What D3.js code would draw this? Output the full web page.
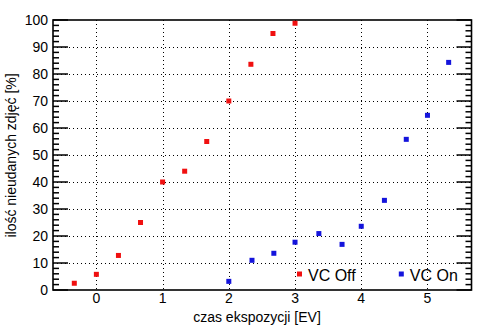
<!DOCTYPE html>
<html><head><meta charset="utf-8">
<script src="https://cdn.jsdelivr.net/npm/d3@7"></script>
<style>body{margin:0;background:#fff}svg{display:block}</style>
</head><body>
<svg id="c" width="494" height="331"></svg>
<script>
const offX = [-1/3, 0, 1/3, 2/3, 1, 4/3, 5/3, 2, 7/3, 8/3, 3];
const offY = [2.5, 5.8, 12.8, 25, 40, 44, 55, 70, 83.6, 95, 98.8];
const onX = [2, 2.35, 2.68, 3, 3.36, 3.71, 4, 4.35, 4.68, 5, 5.32];
const onY = [3.2, 11, 13.6, 17.7, 20.9, 16.9, 23.6, 33.2, 55.8, 64.7, 84.3];
const xTicks = [0, 1, 2, 3, 4, 5];
const yTicks = [0, 10, 20, 30, 40, 50, 60, 70, 80, 90, 100];
const seriesNames = ["VC Off", "VC On"];
const colors = ["#f01010", "#1414dc"];

const svg = d3.select("#c");
const L = 53, R = 471.5, T = 20, B = 290;
const x = d3.scaleLinear().domain([-0.655, 5.665]).range([L, R]);
const y = d3.scaleLinear().domain([0, 100]).range([B, T]);
const font = "Liberation Sans, Arial, sans-serif";

// grid
const g = svg.append("g");
g.selectAll("line.gx").data(xTicks).enter().append("line")
  .attr("x1", d => Math.round(x(d)) + 0.5).attr("x2", d => Math.round(x(d)) + 0.5)
  .attr("y1", T).attr("y2", B)
  .attr("stroke", "#000").attr("stroke-width", 1).attr("stroke-dasharray", "1,3");
g.selectAll("line.gy").data(yTicks.slice(1, -1)).enter().append("line")
  .attr("y1", d => Math.round(y(d)) + 0.5).attr("y2", d => Math.round(y(d)) + 0.5)
  .attr("x1", L).attr("x2", R)
  .attr("stroke", "#000").attr("stroke-width", 1).attr("stroke-dasharray", "1,3");

// left and right axis ticks
const minor = d3.range(0, 101, 2);
const ax = svg.append("g").attr("stroke", "#000").attr("stroke-width", 1.5);
ax.selectAll("line.ml").data(minor).enter().append("line")
  .attr("x1", L).attr("x2", d => L + (d % 10 === 0 ? 15 : 6))
  .attr("y1", d => y(d)).attr("y2", d => y(d));
ax.selectAll("line.mr").data(minor).enter().append("line")
  .attr("x1", R).attr("x2", d => R - (d % 10 === 0 ? 15 : 6))
  .attr("y1", d => y(d)).attr("y2", d => y(d));
// frame
svg.append("rect").attr("x", L).attr("y", T).attr("width", R - L).attr("height", B - T)
  .attr("fill", "none").attr("stroke", "#000").attr("stroke-width", 1.6);

// tick labels
svg.selectAll("text.yt").data(yTicks).enter().append("text")
  .attr("x", L - 5).attr("y", d => y(d) + 5)
  .attr("text-anchor", "end").attr("font-family", font).attr("font-size", 14)
  .attr("fill", "#000").text(d => d);
svg.selectAll("text.xt").data(xTicks).enter().append("text")
  .attr("x", d => x(d)).attr("y", B + 13)
  .attr("text-anchor", "middle").attr("font-family", font).attr("font-size", 14)
  .attr("fill", "#000").text(d => d);

// axis titles
svg.append("text").attr("x", 257).attr("y", 322).attr("text-anchor", "middle")
  .attr("font-family", font).attr("font-size", 14).text("czas ekspozycji [EV]");
svg.append("text").attr("transform", "translate(16,155.5) rotate(-90)")
  .attr("text-anchor", "middle").attr("font-family", font).attr("font-size", 14)
  .text("ilość nieudanych zdjęć [%]");

// points
const s = 5;
const series = [offX.map((v, i) => [v, offY[i]]), onX.map((v, i) => [v, onY[i]])];
series.forEach((pts, k) => {
  svg.selectAll("rect.p" + k).data(pts).enter().append("rect")
    .attr("x", d => x(d[0]) - s / 2).attr("y", d => y(d[1]) - s / 2)
    .attr("width", s).attr("height", s).attr("fill", colors[k]);
});

// legend
const legX = [299.5, 401.3];
seriesNames.forEach((n, k) => {
  svg.append("rect").attr("x", legX[k] - 2.5).attr("y", 271.5).attr("width", s).attr("height", s)
    .attr("fill", colors[k]);
  svg.append("text").attr("x", legX[k] + 8.5).attr("y", 281)
    .attr("font-family", font).attr("font-size", 16).attr("fill", "#000").text(n);
});
</script>
</body></html>
